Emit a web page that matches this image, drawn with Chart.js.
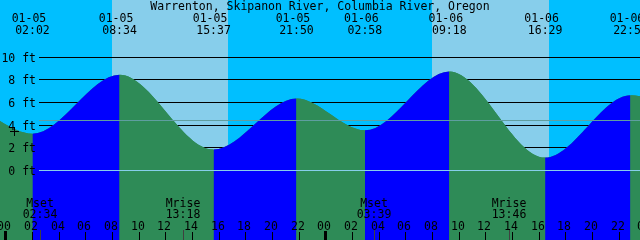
<!DOCTYPE html>
<html><head><meta charset="utf-8">
<script src="https://cdn.jsdelivr.net/npm/chart.js@4/dist/chart.umd.min.js"></script>
<style>html,body{margin:0;padding:0;background:#00BFFF;overflow:hidden}canvas{display:block}</style>
</head><body><canvas id="c" width="640" height="240"></canvas>
<script>
const title = "Warrenton, Skipanon River, Columbia River, Oregon";
// tide extremes (day offset: 0 = 01-05)
const tideDays  = [-1, -1, 0, 0, 0, 0, 1, 1, 1, 1, 2];
const tideDates = ["01-04","01-04","01-05","01-05","01-05","01-05","01-06","01-06","01-06","01-06","01-07"];
const tideTimes = ["14:30","20:24","02:02","08:34","15:37","21:50","02:58","09:18","16:29","22:53","04:50"];
const tideFeet  = [1.5, 6.0, 3.2, 8.4, 1.8, 6.3, 3.5, 8.7, 1.1, 6.6, 3.4];
// sunrise / sunset
const sunDays  = [0, 0, 1, 1];
const sunTimes = ["08:02", "16:42", "07:58", "16:48"];
// moon events
const moonDays  = [0, 0, 1, 1];
const moonKinds = ["Mset", "Mrise", "Mset", "Mrise"];
const moonTimes = ["02:34", "13:18", "03:39", "13:46"];
// axis labels
const feetTicks  = [0, 2, 4, 6, 8, 10];
const hourLabels = ["00","02","04","06","08","10","12","14","16","18","20","22",
                    "00","02","04","06","08","10","12","14","16","18","20","22","00"];
const meanLevel = 4.37;
const plusMark = [0.65, 3.4]; // hours, ft

const NIGHT = "#00BFFF", DAY = "#87CEEB", RISE = "#0000FF", FALL = "#2E8B57";
const FONT = "11.5px 'DejaVu Sans Mono', monospace";
const X_MIN = -0.4, X_MAX = 47.6;

function toHours(day, hm) { const [h, m] = hm.split(":").map(Number); return day * 24 + h + m / 60; }
const points = tideTimes.map((t, i) => ({ x: toHours(tideDays[i], t), y: tideFeet[i] }));

const deco = {
  id: "deco",
  beforeDraw(chart) {
    const { ctx, width: W, height: H, scales: { x, y } } = chart;
    ctx.save();
    ctx.fillStyle = NIGHT; ctx.fillRect(0, 0, W, H);
    ctx.fillStyle = DAY;
    for (let i = 0; i < sunTimes.length; i += 2) {
      const x1 = Math.round(x.getPixelForValue(toHours(sunDays[i], sunTimes[i])));
      const x2 = Math.round(x.getPixelForValue(toHours(sunDays[i + 1], sunTimes[i + 1])));
      ctx.fillRect(x1, 0, x2 - x1, H);
    }
    ctx.fillStyle = "#000";
    for (const f of feetTicks) {
      if (f === 0) continue;
      const yy = Math.round(y.getPixelForValue(f));
      ctx.fillRect(39, yy, W - 39, 1);
    }
    ctx.restore();
  },
  afterDatasetsDraw(chart) {
    const { ctx, width: W, scales: { x, y } } = chart;
    ctx.save();
    // mean and datum lines
    ctx.fillStyle = "#5F9EA0";
    ctx.fillRect(39, Math.round(y.getPixelForValue(meanLevel)), W - 39, 1);
    ctx.fillStyle = DAY;
    ctx.fillRect(39, Math.round(y.getPixelForValue(0)), W - 39, 1);

    ctx.font = FONT; ctx.fillStyle = "#000"; ctx.textBaseline = "alphabetic";
    // title
    ctx.textAlign = "center";
    ctx.fillText(title, 320, 10);
    // feet labels
    ctx.textAlign = "right";
    for (const f of feetTicks) {
      const yy = Math.round(y.getPixelForValue(f));
      ctx.fillText(f + " ft", 36, yy + 4.5);
    }
    // plus marker
    const px0 = Math.round(x.getPixelForValue(plusMark[0]));
    const py0 = Math.round(y.getPixelForValue(plusMark[1]));
    ctx.fillRect(px0 - 4, py0, 9, 1);
    ctx.fillRect(px0, py0 - 4, 1, 9);
    // tide labels
    ctx.textAlign = "center";
    for (let i = 0; i < points.length; i++) {
      const px = x.getPixelForValue(points[i].x);
      if (px < -20 || px > W + 20) continue;
      ctx.fillText(tideDates[i], px - 3.5, 22);
      ctx.fillText(tideTimes[i], px, 34);
    }
    // hour ticks & labels
    for (let k = 0; k < hourLabels.length; k++) {
      const h = k * 2;
      const px = Math.round(x.getPixelForValue(h));
      if (h % 24 === 0) ctx.fillRect(px - 1, 231, 3, 9);
      else ctx.fillRect(px, 232, 1, 8);
      ctx.fillText(hourLabels[k], px - 1, 230);
    }
    // moon events
    for (let i = 0; i < moonTimes.length; i++) {
      const px = Math.round(x.getPixelForValue(toHours(moonDays[i], moonTimes[i])));
      ctx.fillStyle = "#404040";
      ctx.fillRect(px, 230, 1, 10);
      ctx.fillStyle = "#000";
      ctx.fillText(moonKinds[i], px, 207);
      ctx.fillText(moonTimes[i], px, 218);
    }
    ctx.restore();
  }
};

const common = {
  data: points,
  fill: "start",
  borderColor: "rgba(0,0,0,0)",
  borderWidth: 0,
  pointRadius: 0,
  cubicInterpolationMode: "monotone"
};

new Chart(document.getElementById("c"), {
  type: "line",
  data: {
    datasets: [
      Object.assign({}, common, {
        backgroundColor: FALL,
        segment: { backgroundColor: c => (c.p1.parsed.y > c.p0.parsed.y ? RISE : FALL) }
      }),
      Object.assign({}, common, { backgroundColor: FALL })
    ]
  },
  options: {
    responsive: false,
    animation: false,
    events: [],
    layout: { padding: 0 },
    elements: { line: { capBezierPoints: false } },
    plugins: { legend: { display: false }, tooltip: { enabled: false } },
    scales: {
      x: { type: "linear", display: false, bounds: "data",
           afterDataLimits(s) { s.min = X_MIN; s.max = X_MAX; } },
      y: { type: "linear", display: false, min: -6.176, max: 15.0, bounds: "data" }
    }
  },
  plugins: [deco]
});
</script>
</body></html>
